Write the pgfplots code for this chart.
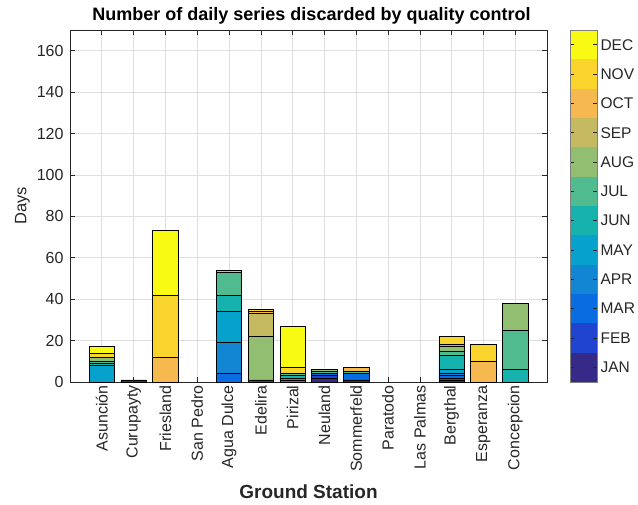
\documentclass[border=0pt]{standalone}
\usepackage{pgfplots}
\pgfplotsset{compat=1.18}
\usepackage{pgfplotstable}
\usepackage{fontspec}
\setmainfont{Liberation Sans}
\definecolor{cJAN}{RGB}{53,42,135}
\definecolor{cFEB}{RGB}{32,68,207}
\definecolor{cMAR}{RGB}{9,108,224}
\definecolor{cAPR}{RGB}{19,134,211}
\definecolor{cMAY}{RGB}{7,162,203}
\definecolor{cJUN}{RGB}{22,178,173}
\definecolor{cJUL}{RGB}{80,187,142}
\definecolor{cAUG}{RGB}{146,190,114}
\definecolor{cSEP}{RGB}{197,185,97}
\definecolor{cOCT}{RGB}{245,185,80}
\definecolor{cNOV}{RGB}{249,212,44}
\definecolor{cDEC}{RGB}{249,250,20}
\definecolor{axgray}{RGB}{38,38,38}
\definecolor{gridgray}{RGB}{223,223,223}
\pgfplotstableread{
x JAN FEB MAR APR MAY JUN JUL AUG SEP OCT NOV DEC
1  0 0 0 0 8 1 1 2 0 0 2 3
2  1 0 0 0 0 0 0 0 0 0 0 0
3  0 0 0 0 0 0 0 0 0 12 30 31
4  0 0 0 0 0 0 0 0 0 0 0 0
5  0 0 4 15 15 8 11 0 0 1 0 0
6  0 1 0 0 0 0 0 21 11 1 1 0
7  0 0 0 1 1 1 1 0 0 0 3 20
8  2 1 1 0 0 0 1 1 0 0 0 0
9  1 0 3 0 0 0 1 0 0 2 0 0
10 0 0 0 0 0 0 0 0 0 0 0 0
11 0 0 0 0 0 0 0 0 0 0 0 0
12 1 1 1 1 2 7 2 2 1 0 4 0
13 0 0 0 0 0 0 0 0 0 10 8 0
14 0 0 0 0 0 6 19 13 0 0 0 0
}\data
\begin{document}
\begin{tikzpicture}
\useasboundingbox (-70pt,-122pt) rectangle (568pt,382pt);
\begin{axis}[
  name=main,
  at={(0pt,0pt)}, anchor=south west,
  width=477pt, height=352pt, scale only axis,
  ybar stacked, bar width=0.8,
  xmin=0, xmax=15, ymin=0, ymax=170,
  xtick={1,...,14},
  xticklabels={Asunción,Curupayty,Friesland,San Pedro,Agua Dulce,Edelira,Pirizal,Neuland,Sommerfeld,Paratodo,Las Palmas,Bergthal,Esperanza,Concepcion},
  xticklabel style={rotate=90, anchor=east, font=\fontsize{16}{18}\selectfont, yshift=0pt},
  ytick={0,20,...,160},
  yticklabel style={font=\fontsize{16}{18}\selectfont, xshift=-3pt},
  /pgf/number format/assume math mode=true,
  tick align=inside, tick pos=both,
  major tick length=5pt,
  grid=major,
  major grid style={gridgray, line width=0.6pt},
  axis line style={axgray, line width=0.7pt},
  every tick/.style={axgray, line width=0.6pt},
  tick label style={text=axgray},
  title={Number of daily series discarded by quality control},
  title style={font=\bfseries\fontsize{18}{21}\selectfont, yshift=-4pt, xshift=3pt},
  xlabel={Ground Station},
  xlabel style={font=\bfseries\fontsize{19}{21}\selectfont, text=axgray, yshift=-6pt},
  ylabel={Days},
  ylabel style={font=\fontsize{16.5}{18}\selectfont, text=axgray, yshift=0pt},
  every axis plot/.append style={draw=black, line width=0.7pt},
]
\addplot[fill=cJAN] table[x=x, y=JAN] {\data};
\addplot[fill=cFEB] table[x=x, y=FEB] {\data};
\addplot[fill=cMAR] table[x=x, y=MAR] {\data};
\addplot[fill=cAPR] table[x=x, y=APR] {\data};
\addplot[fill=cMAY] table[x=x, y=MAY] {\data};
\addplot[fill=cJUN] table[x=x, y=JUN] {\data};
\addplot[fill=cJUL] table[x=x, y=JUL] {\data};
\addplot[fill=cAUG] table[x=x, y=AUG] {\data};
\addplot[fill=cSEP] table[x=x, y=SEP] {\data};
\addplot[fill=cOCT] table[x=x, y=OCT] {\data};
\addplot[fill=cNOV] table[x=x, y=NOV] {\data};
\addplot[fill=cDEC] table[x=x, y=DEC] {\data};
\end{axis}
\begin{axis}[
  at={(500pt,0pt)}, anchor=south west,
  width=27pt, height=352pt, scale only axis,
  axis on top,
  ybar stacked, bar width=1,
  xmin=0, xmax=1, ymin=0, ymax=12,
  xtick=\empty,
  ytick={0.5,1.5,...,11.5},
  yticklabels={JAN,FEB,MAR,APR,MAY,JUN,JUL,AUG,SEP,OCT,NOV,DEC},
  yticklabel pos=right, ytick pos=both,
  tick align=inside,
  major tick length=4pt,
  yticklabel style={font=\fontsize{15.5}{17}\selectfont, text=axgray, xshift=0pt},
  axis line style={gray, line width=0.7pt},
  every tick/.style={axgray, line width=0.5pt},
  every axis plot/.append style={draw=none},
]
\addplot[fill=cJAN] coordinates {(0.5,1)};
\addplot[fill=cFEB] coordinates {(0.5,1)};
\addplot[fill=cMAR] coordinates {(0.5,1)};
\addplot[fill=cAPR] coordinates {(0.5,1)};
\addplot[fill=cMAY] coordinates {(0.5,1)};
\addplot[fill=cJUN] coordinates {(0.5,1)};
\addplot[fill=cJUL] coordinates {(0.5,1)};
\addplot[fill=cAUG] coordinates {(0.5,1)};
\addplot[fill=cSEP] coordinates {(0.5,1)};
\addplot[fill=cOCT] coordinates {(0.5,1)};
\addplot[fill=cNOV] coordinates {(0.5,1)};
\addplot[fill=cDEC] coordinates {(0.5,1)};
\end{axis}
\end{tikzpicture}
\end{document}
